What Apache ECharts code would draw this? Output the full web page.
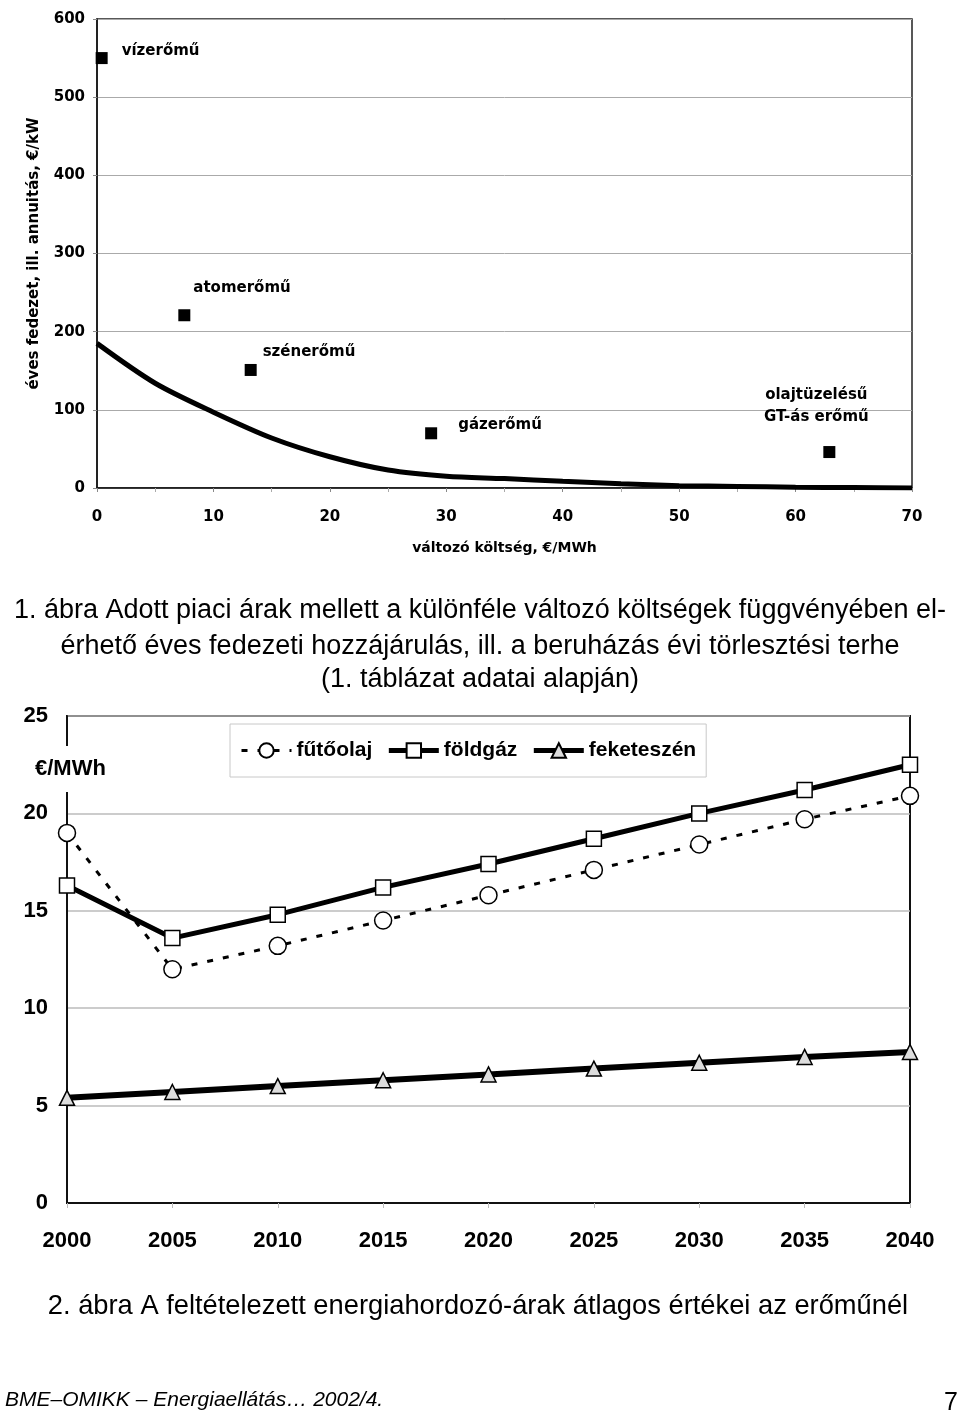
<!DOCTYPE html>
<html><head><meta charset="utf-8">
<script src="https://cdn.jsdelivr.net/npm/echarts@6/dist/echarts.min.js"></script>
<style>html,body{margin:0;padding:0;background:#fff}#c{width:960px;height:1416px}</style>
</head><body><div id="c"></div>
<script>
// ---- Chart 1 data ----
const plantNames = ['vízerőmű', 'atomerőmű', 'szénerőmű', 'gázerőmű', 'olajtüzelésű\nGT-ás erőmű'];
const plantCost = [0.4, 7.5, 13.2, 28.7, 62.9];
const plantAnnuity = [550, 221, 151, 70, 46];
const curveX = [0, 5, 10, 15, 20, 25, 30, 35, 40, 45, 50, 55, 60, 65, 70];
const curveY = [185, 134, 97, 64, 40, 23, 15, 12, 8.5, 5.5, 3, 2, 1, 0.5, 0];
// ---- Chart 2 data ----
const years = [2000, 2005, 2010, 2015, 2020, 2025, 2030, 2035, 2040];
const futoolaj = [19.0, 12.0, 13.2, 14.5, 15.8, 17.1, 18.4, 19.7, 20.9];
const foldgaz = [16.3, 13.6, 14.8, 16.2, 17.4, 18.7, 20.0, 21.2, 22.5];
const feketeszen = [5.4, 5.7, 6.0, 6.3, 6.6, 6.9, 7.2, 7.5, 7.75];
const seriesNames = ['fűtőolaj', 'földgáz', 'feketeszén'];

const chart = echarts.init(document.getElementById('c'), null, {renderer: 'canvas'});
const F1 = 'DejaVu Sans';
const F2 = 'Liberation Sans';

const labelCfg = [
  {align: 'left', offset: [20, -7]},
  {align: 'left', offset: [9, -27]},
  {align: 'left', offset: [12, -18]},
  {align: 'left', offset: [27, -8]},
  {align: 'center', offset: [-13, -46]}
];

const plantData = plantNames.map((n, i) => ({
  name: n,
  value: [plantCost[i], plantAnnuity[i]],
  label: Object.assign({show: true, position: 'inside', verticalAlign: 'middle', color: '#000',
    fontFamily: F1, fontWeight: 'bold', fontSize: 15, lineHeight: 22, formatter: '{b}'}, labelCfg[i])
}));

const pair = arr => years.map((y, i) => [y, arr[i]]);
const legendLineWidths = [3, 5, 5];

chart.setOption({
  animation: false,
  backgroundColor: '#fff',
  grid: [
    {left: 97, right: 48, top: 19, height: 469, show: true, borderColor: '#222', borderWidth: 1.5, backgroundColor: 'transparent'},
    {left: 67, right: 50, top: 716, height: 487, show: true, borderColor: '#111', borderWidth: 2, backgroundColor: 'transparent'}
  ],
  xAxis: [
    {gridIndex: 0, type: 'value', min: 0, max: 70, interval: 10,
      name: 'változó költség, €/MWh', nameLocation: 'middle', nameGap: 53,
      nameTextStyle: {fontFamily: F1, fontWeight: 'bold', fontSize: 14, color: '#000'},
      axisLine: {lineStyle: {color: '#111', width: 1.5}},
      axisTick: {show: true, length: 4, lineStyle: {color: '#888'}},
      minorTick: {show: true, splitNumber: 2, length: 4, lineStyle: {color: '#aaa'}},
      splitLine: {show: false},
      axisLabel: {margin: 22, fontFamily: F1, fontWeight: 'bold', fontSize: 15, color: '#000'}},
    {gridIndex: 1, type: 'value', min: 2000, max: 2040, interval: 5,
      axisLine: {lineStyle: {color: '#111', width: 2}},
      axisTick: {show: true, length: 5, lineStyle: {color: '#bbb'}},
      splitLine: {show: false},
      axisLabel: {margin: 27, fontFamily: F2, fontWeight: 'bold', fontSize: 22, color: '#000',
        formatter: v => String(v)}}
  ],
  yAxis: [
    {gridIndex: 0, type: 'value', min: 0, max: 600, interval: 100,
      name: 'éves fedezet, ill. annuitás, €/kW', nameLocation: 'middle', nameGap: 55, nameRotate: 90,
      nameTextStyle: {fontFamily: F1, fontWeight: 'bold', fontSize: 15, color: '#000'},
      axisLine: {show: true, lineStyle: {color: '#111', width: 1.5}},
      axisTick: {show: true, length: 4, lineStyle: {color: '#888'}},
      splitLine: {show: true, lineStyle: {color: '#aaa', width: 1}},
      axisLabel: {margin: 12, fontFamily: F1, fontWeight: 'bold', fontSize: 15, color: '#000'}},
    {gridIndex: 1, type: 'value', min: 0, max: 25, interval: 5,
      axisLine: {show: true, lineStyle: {color: '#111', width: 2}},
      axisTick: {show: false},
      splitLine: {show: true, lineStyle: {color: '#bbb', width: 1.5}},
      axisLabel: {margin: 19, fontFamily: F2, fontWeight: 'bold', fontSize: 22, color: '#000'}}
  ],
  legend: {
    left: 230, top: 724,
    data: seriesNames.map((n, i) => ({name: n, lineStyle: {width: legendLineWidths[i]}})),
    borderColor: '#c8c8c8', borderWidth: 1, padding: [16, 10, 16, 10],
    itemWidth: 50, itemHeight: 18, itemGap: 14,
    textStyle: {fontFamily: F2, fontWeight: 'bold', fontSize: 21, color: '#000'}
  },
  series: [
    {type: 'line', xAxisIndex: 0, yAxisIndex: 0, smooth: 0.3, symbol: 'none',
      lineStyle: {color: '#000', width: 5}, data: curveX.map((x, i) => [x, curveY[i]]), z: 3},
    {type: 'scatter', xAxisIndex: 0, yAxisIndex: 0, symbol: 'rect', symbolSize: 12,
      itemStyle: {color: '#000', opacity: 1}, data: plantData, z: 4},
    {name: seriesNames[0], type: 'line', xAxisIndex: 1, yAxisIndex: 1, symbol: 'circle', symbolSize: 17,
      showAllSymbol: true,
      lineStyle: {color: '#000', width: 3, type: [6, 10]},
      itemStyle: {color: '#fff', borderColor: '#000', borderWidth: 1.5},
      data: pair(futoolaj), z: 3},
    {name: seriesNames[1], type: 'line', xAxisIndex: 1, yAxisIndex: 1, symbol: 'rect', symbolSize: 15,
      lineStyle: {color: '#000', width: 5},
      itemStyle: {color: '#fff', borderColor: '#000', borderWidth: 1.5},
      data: pair(foldgaz), z: 4},
    {name: seriesNames[2], type: 'line', xAxisIndex: 1, yAxisIndex: 1, symbol: 'triangle', symbolSize: 15,
      lineStyle: {color: '#000', width: 6},
      itemStyle: {color: '#ddd', borderColor: '#000', borderWidth: 1.5},
      data: pair(feketeszen), z: 4}
  ],
  graphic: [
    {type: 'text', left: 33, top: 746, z: 100,
      style: {text: '€/MWh', font: 'bold 22px "Liberation Sans"', fill: '#000', backgroundColor: '#fff', padding: [12, 2, 12, 2]}},
    {type: 'text', x: 480, y: 611, z: 100,
      style: {text: '1. ábra Adott piaci árak mellett a különféle változó költségek függvényében el-', font: '27px "Liberation Sans"', fill: '#000', textAlign: 'center', textVerticalAlign: 'middle'}},
    {type: 'text', x: 480, y: 647, z: 100,
      style: {text: 'érhető éves fedezeti hozzájárulás, ill. a beruházás évi törlesztési terhe', font: '27px "Liberation Sans"', fill: '#000', textAlign: 'center', textVerticalAlign: 'middle'}},
    {type: 'text', x: 480, y: 680, z: 100,
      style: {text: '(1. táblázat adatai alapján)', font: '27px "Liberation Sans"', fill: '#000', textAlign: 'center', textVerticalAlign: 'middle'}},
    {type: 'text', x: 478, y: 1306, z: 100,
      style: {text: '2. ábra A feltételezett energiahordozó-árak átlagos értékei az erőműnél', font: '27.3px "Liberation Sans"', fill: '#000', textAlign: 'center', textVerticalAlign: 'middle'}},
    {type: 'text', x: 5, y: 1400, z: 100,
      style: {text: 'BME–OMIKK – Energiaellátás… 2002/4.', font: 'italic 21px "Liberation Sans"', fill: '#000', textAlign: 'left', textVerticalAlign: 'middle'}},
    {type: 'text', x: 958, y: 1403, z: 100,
      style: {text: '7', font: '25px "Liberation Sans"', fill: '#000', textAlign: 'right', textVerticalAlign: 'middle'}}
  ]
});
</script></body></html>
